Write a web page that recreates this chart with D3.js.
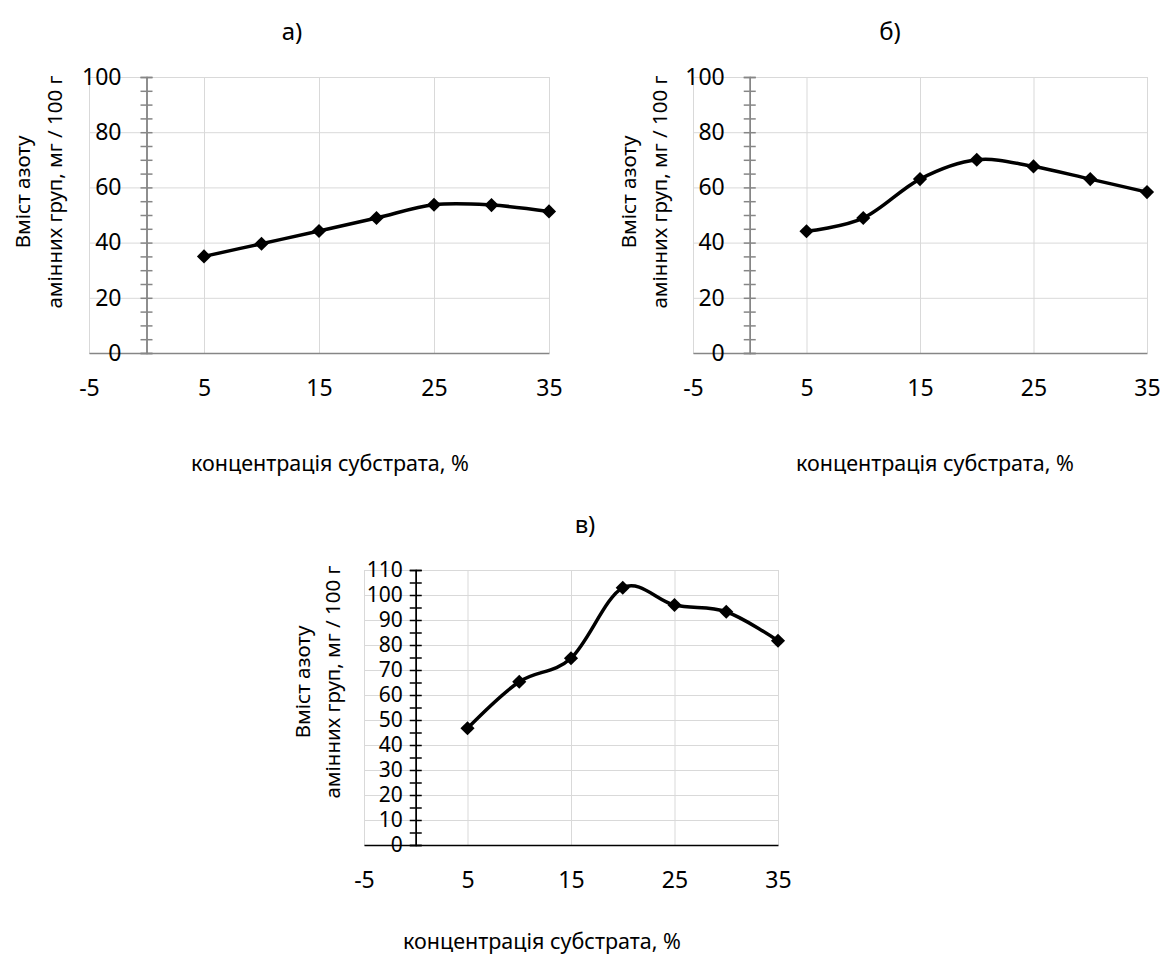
<!DOCTYPE html>
<html>
<head>
<meta charset="utf-8">
<script src="https://cdn.jsdelivr.net/npm/d3@7"></script>
<style>
  body { margin: 0; background: #fff; }
  svg text { font-family: "Noto Sans", "Open Sans", sans-serif; fill: #000; }
</style>
</head>
<body>
<svg id="chart" width="1169" height="959"></svg>
<script>
// concentration of substrate, %
const concentration = [5, 10, 15, 20, 25, 30, 35]
// amine nitrogen content, mg / 100 g
const values_a = [35.0, 39.6, 44.2, 48.9, 53.7, 53.6, 51.3]
const values_b = [44.1, 48.9, 63.0, 70.0, 67.6, 63.0, 58.3]
const values_c = [46.7, 65.3, 74.7, 102.9, 96.0, 93.3, 81.7]

const x_ticks = [-5, 5, 15, 25, 35]
const y_ticks_ab = [0, 20, 40, 60, 80, 100]
const y_ticks_c = [0, 10, 20, 30, 40, 50, 60, 70, 80, 90, 100, 110]

const panel_titles = ["а)", "б)", "в)"]
const x_title = "концентрація субстрата, %"
const y_title = ["Вміст азоту", "амінних груп, мг / 100 г"]

const panels = [
  { title: panel_titles[0], values: values_a, y_ticks: y_ticks_ab, minor: 5,
    left: 89, right: 549, top: 77, bottom: 353, axis_color: "#868686", label_gap: 25, tick_font: 23,
    title_x: 292, title_y: 30, ytitle_x: [22, 54], ytitle_y: 192, xtitle_x: 330, xtitle_y: 462 },
  { title: panel_titles[1], values: values_b, y_ticks: y_ticks_ab, minor: 5,
    left: 693, right: 1147, top: 77, bottom: 353, axis_color: "#868686", label_gap: 25, tick_font: 23,
    title_x: 890, title_y: 30, ytitle_x: [628, 659], ytitle_y: 192, xtitle_x: 935, xtitle_y: 462 },
  { title: panel_titles[2], values: values_c, y_ticks: y_ticks_c, minor: 5,
    left: 364, right: 778, top: 570, bottom: 845, axis_color: "#000000", label_gap: 13, tick_font: 21,
    title_x: 585, title_y: 523, ytitle_x: [302, 332], ytitle_y: 682, xtitle_x: 542, xtitle_y: 940 }
]

const svg = d3.select("#chart")

function draw_panel(p) {
  const g = svg.append("g")
  const y_max = d3.max(p.y_ticks)

  const x = d3.scaleLinear().domain([-5, 35]).range([p.left, p.right])
  const y = d3.scaleLinear().domain([0, y_max]).range([p.bottom, p.top])

  // gridlines
  g.append("g")
    .attr("transform", `translate(0,${p.bottom})`)
    .call(d3.axisBottom(x).tickValues(x_ticks).tickSize(-(p.bottom - p.top)).tickFormat(""))
    .call(s => s.select(".domain").remove())
    .selectAll("line").attr("stroke", "#d9d9d9")
  g.append("g")
    .attr("transform", `translate(${p.left},0)`)
    .call(d3.axisLeft(y).tickValues(p.y_ticks).tickSize(-(p.right - p.left)).tickFormat(""))
    .call(s => s.select(".domain").remove())
    .selectAll("line").attr("stroke", "#d9d9d9")

  // x axis line at y = 0 with labels
  const xa = g.append("g")
    .attr("transform", `translate(0,${p.bottom})`)
    .call(d3.axisBottom(x).tickValues(x_ticks).tickSize(0).tickPadding(27).tickFormat(d => String(d)))
  xa.select(".domain").attr("stroke", p.axis_color).attr("stroke-width", 1.5)
  xa.selectAll("text").attr("font-size", 23).attr("font-family", "Noto Sans")

  // y axis at x = 0 : cross ticks, minor every 5
  const minor = d3.range(0, y_max + 0.01, p.minor)
  const x0 = x(0)
  g.append("g")
    .attr("transform", `translate(${x0},0)`)
    .call(d3.axisLeft(y).tickValues(minor).tickSize(6).tickFormat(""))
    .call(s => s.selectAll("line,path").attr("stroke", p.axis_color).attr("stroke-width", 1.5))
  g.append("g")
    .attr("transform", `translate(${x0},0)`)
    .call(d3.axisRight(y).tickValues(minor).tickSize(6).tickFormat(""))
    .call(s => s.selectAll("line,path").attr("stroke", p.axis_color).attr("stroke-width", 1.5))
  const ya = g.append("g")
    .attr("transform", `translate(${x0},0)`)
    .call(d3.axisLeft(y).tickValues(p.y_ticks).tickSize(0).tickPadding(p.label_gap))
  ya.select(".domain").remove()
  ya.selectAll("text").attr("font-size", p.tick_font).attr("font-family", "Noto Sans")

  // smoothed line
  const pts = concentration.map((c, i) => [c, p.values[i]])
  const line = d3.line()
    .x(d => x(d[0]))
    .y(d => y(d[1]))
    .curve(d3.curveCardinal.tension(0))
  g.append("path")
    .datum(pts)
    .attr("d", line)
    .attr("fill", "none")
    .attr("stroke", "#000")
    .attr("stroke-width", 3.5)

  // diamond markers
  const diamond = d3.symbol().type(d3.symbolSquare).size(100)
  g.selectAll(".marker")
    .data(pts)
    .join("path")
    .attr("class", "marker")
    .attr("d", diamond)
    .attr("transform", d => `translate(${x(d[0])},${y(d[1])}) rotate(45)`)
    .attr("fill", "#000")

  // titles
  g.append("text")
    .attr("x", p.title_x).attr("y", p.title_y)
    .attr("text-anchor", "middle").attr("dominant-baseline", "central")
    .attr("font-size", 24)
    .text(p.title)

  g.append("text")
    .attr("x", p.xtitle_x).attr("y", p.xtitle_y)
    .attr("text-anchor", "middle").attr("dominant-baseline", "central")
    .attr("font-size", 21.5)
    .text(x_title)

  y_title.forEach((t, i) => {
    g.append("text")
      .attr("transform", `translate(${p.ytitle_x[i]},${p.ytitle_y}) rotate(-90)`)
      .attr("text-anchor", "middle").attr("dominant-baseline", "central")
      .attr("font-size", 20.5)
      .text(t)
  })
}

panels.forEach(draw_panel)
</script>
</body>
</html>
